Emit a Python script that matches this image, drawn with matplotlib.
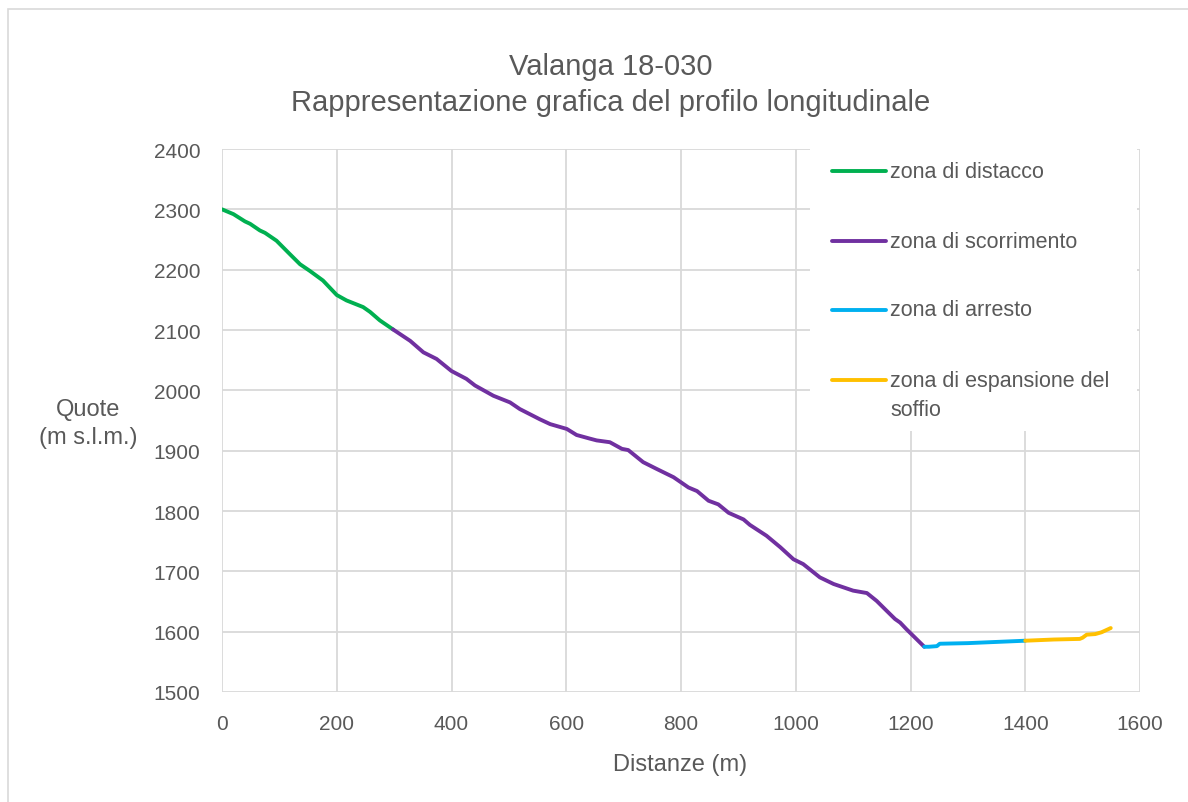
import matplotlib
matplotlib.use("Agg")
import matplotlib.pyplot as plt
from matplotlib.patches import Rectangle

# profile segments (distance m, elevation m s.l.m.)
distacco_x = [0, 20, 40, 49, 66, 75, 95, 118, 136, 153, 176, 200, 217, 246, 258, 275, 298]
distacco_y = [2300, 2292, 2280, 2276, 2265, 2261, 2248, 2226, 2209, 2198, 2182, 2158, 2149, 2138, 2130, 2116, 2101]

scorrimento_x = [298, 328, 351, 374, 400, 426, 441, 473, 502, 519, 554, 572, 601, 618, 641, 653, 676,
                 697, 708, 734, 757, 787, 813, 828, 848, 865, 883, 909, 920, 949, 973, 996, 1013,
                 1042, 1066, 1100, 1124, 1141, 1158, 1173, 1182, 1193, 1208, 1224]
scorrimento_y = [2101, 2082, 2063, 2052, 2032, 2019, 2008, 1991, 1980, 1969, 1952, 1944, 1936, 1926, 1920, 1917, 1914,
                 1903, 1901, 1881, 1870, 1856, 1839, 1833, 1817, 1811, 1797, 1786, 1777, 1759, 1740, 1720, 1712,
                 1690, 1679, 1668, 1664, 1651, 1635, 1621, 1615, 1604, 1590, 1575]

arresto_x = [1224, 1232, 1246, 1251, 1300, 1350, 1400]
arresto_y = [1575, 1575, 1576, 1580, 1581, 1583, 1585]

espansione_x = [1400, 1450, 1495, 1500, 1507, 1522, 1533, 1549]
espansione_y = [1585, 1587, 1588, 1590, 1595, 1596, 1599, 1606]

labels = ["zona di distacco", "zona di scorrimento", "zona di arresto", "zona di espansione del\nsoffio"]
colors = ["#00B050", "#7030A0", "#00B0F0", "#FFC000"]

plt.rcParams["font.family"] = ["Liberation Sans", "DejaVu Sans"]
txt = "#595959"

W, H = 1188, 803
fig = plt.figure(figsize=(W / 100, H / 100), dpi=100)
ax = fig.add_axes([222 / W, 1 - 693 / H, 918 / W, 543 / H])

# outer chart border
fig.patches.append(Rectangle((8 / W, -0.1), 1.2, 1 - 10 / H + 0.1, transform=fig.transFigure,
                             fill=False, edgecolor="#d9d9d9", lw=1.2))

series = [(distacco_x, distacco_y), (scorrimento_x, scorrimento_y),
          (arresto_x, arresto_y), (espansione_x, espansione_y)]
for (x, y), c in zip(series, colors):
    ax.plot(x, y, color=c, lw=2.8, solid_capstyle="round", zorder=2)

ax.set_xlim(0, 1600)
ax.set_ylim(1500, 2400)
ax.set_xticks(range(0, 1601, 200))
ax.set_yticks(range(1500, 2401, 100))
ax.grid(True, color="#d9d9d9", lw=1.3)
ax.set_axisbelow(True)
for s in ax.spines.values():
    s.set_visible(False)
ax.tick_params(length=0, labelsize=15, labelcolor=txt, pad=15.5)

ax.set_xlabel("Distanze (m)", fontsize=17, color=txt, va="center")
ax.xaxis.set_label_coords(0.499, (693 - 765) / 543)
ax.set_ylabel("Quote\n(m s.l.m.)", fontsize=17, color=txt, rotation=0, ha="center", va="center",
              linespacing=1.35)
ax.yaxis.set_label_coords((88 - 222) / 918, (693 - 424) / 543)

fig.text(611 / W, 1 - 67 / H, "Valanga 18-030", ha="center", va="center", fontsize=21, color=txt)
fig.text(611 / W, 1 - 103 / H, "Rappresentazione grafica del profilo longitudinale",
         ha="center", va="center", fontsize=21, color=txt)

# legend inside the plot area, Excel style
def fx(px):
    return (px - 222) / 918

def fy(py):
    return (693 - py) / 543

ax.add_patch(Rectangle((fx(810), fy(432)), fx(1137) - fx(810), fy(150) - fy(432),
                       transform=ax.transAxes, facecolor="white", edgecolor="none", zorder=4))
rows = [172, 242, 311, 381]
for lab, c, py in zip(labels, colors, rows):
    ax.plot([fx(832), fx(886)], [fy(py), fy(py)], transform=ax.transAxes, color=c, lw=2.8,
            solid_capstyle="round", zorder=5)
    for k, part in enumerate(lab.split("\n")):
        ax.text(fx(890), fy(py + 30 * k), part, transform=ax.transAxes, fontsize=15.5, color=txt,
                ha="left", va="center", zorder=6)

fig.savefig("out.png", dpi=100, facecolor="white")
